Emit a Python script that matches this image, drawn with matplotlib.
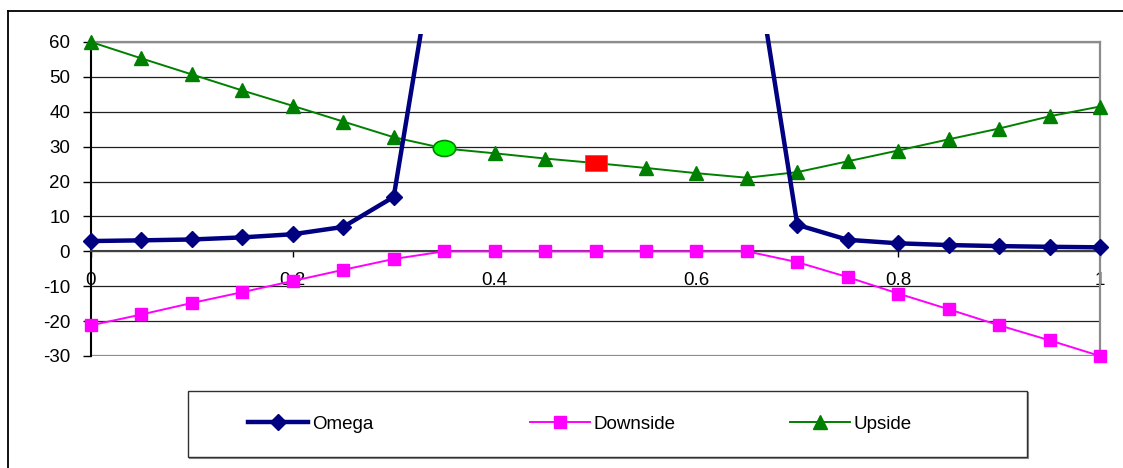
import matplotlib
matplotlib.use("Agg")
import matplotlib.pyplot as plt
import numpy as np
from matplotlib.lines import Line2D
from matplotlib.markers import MarkerStyle
from matplotlib.patches import Rectangle
from matplotlib.transforms import Affine2D

plt.rcParams['font.family'] = ['Liberation Sans', 'DejaVu Sans']

# threshold values
x = [0, 0.05, 0.1, 0.15, 0.2, 0.25, 0.3, 0.35, 0.4, 0.45, 0.5,
     0.55, 0.6, 0.65, 0.7, 0.75, 0.8, 0.85, 0.9, 0.95, 1.0]
omega = [2.95, 3.15, 3.4, 4.0, 4.9, 7.0, 15.6, 103, np.nan, np.nan, np.nan,
         np.nan, np.nan, 99, 7.6, 3.3, 2.3, 1.8, 1.5, 1.3, 1.15]
downside = [-21.2, -18.1, -14.8, -11.7, -8.5, -5.3, -2.2, 0, 0, 0, 0,
            0, 0, 0, -3.1, -7.4, -12.1, -16.6, -21.2, -25.5, -30.0]
upside = [60, 55.3, 50.7, 46.1, 41.7, 37.2, 32.7, 29.5, 28.1, 26.6, 25.3,
          23.9, 22.4, 21.1, 22.7, 25.8, 28.9, 32.1, 35.2, 38.7, 41.5]
circle_idx = 7   # highlighted points on the upside curve
square_idx = 10

yticks = [-30, -20, -10, 0, 10, 20, 30, 40, 50, 60]
xticks = [0, 0.2, 0.4, 0.6, 0.8, 1.0]
xticklabels = ['0', '0.2', '0.4', '0.6', '0.8', '1']
names = ['Omega', 'Downside', 'Upside']

W, H = 1123, 468
fig = plt.figure(figsize=(W / 100, H / 100), dpi=100)
ax = fig.add_axes([91 / W, 1 - 356 / H, 1009 / W, 314 / H])

ax.set_xlim(0, 1)
ax.set_ylim(-30, 60)
ax.set_yticks(yticks)
ax.set_yticklabels([str(v) for v in yticks])
ax.set_xticks(xticks)
ax.set_xticklabels(xticklabels)
ax.grid(axis='y', color='#202020', lw=0.9)
ax.set_axisbelow(True)

for s in ['top', 'right']:
    ax.spines[s].set_color('#8c8c8c')
    ax.spines[s].set_linewidth(1.6)
ax.spines['left'].set_color('black')
ax.spines['left'].set_linewidth(1.5)
ax.spines['bottom'].set_position(('data', 0))
ax.spines['bottom'].set_color('#404040')
ax.spines['bottom'].set_linewidth(1.5)
# plot area border at the bottom
ax.axhline(-30, color='#8c8c8c', lw=1.6, zorder=1.5)

ax.tick_params(axis='y', direction='out', length=6, width=1, pad=9, labelsize=13.5)
ax.tick_params(axis='x', direction='out', length=4, width=1, pad=11, labelsize=13.5)

navy, pink, green = '#000080', '#FF00FF', '#008000'

ax.plot(x, downside, color=pink, lw=1.4, marker='s', ms=9, mec=pink,
        clip_on=False, zorder=3)
keep = [i for i in range(len(x)) if i not in (circle_idx, square_idx)]
ax.plot(x, upside, color=green, lw=1.4, marker='^', ms=10, mec=green,
        markevery=keep, clip_on=False, zorder=4)
ax.plot(x[circle_idx], upside[circle_idx], linestyle='none',
        marker=MarkerStyle('o', transform=Affine2D().scale(1.4, 1)),
        ms=11.5, mfc='#00FF00', mec=green, mew=1.2, clip_on=False, zorder=5)
ax.plot(x[square_idx], upside[square_idx], linestyle='none',
        marker=MarkerStyle('s', transform=Affine2D().scale(1.35, 1)),
        ms=12, mfc='#FF0000', mec='#FF3030', mew=0.5, clip_on=False, zorder=5)

om, = ax.plot(x, omega, color=navy, lw=3.2, marker='D', ms=8, mec=navy, zorder=6)
om.set_clip_path(Rectangle((-0.05, -0.2), 1.1, 1.225, transform=ax.transAxes))

# outer chart frame
fig.add_artist(Line2D([8 / W, 1], [1 - 11 / H, 1 - 11 / H],
                      transform=fig.transFigure, color='black', lw=1.3))
fig.add_artist(Line2D([8 / W, 8 / W], [0, 1 - 11 / H],
                      transform=fig.transFigure, color='black', lw=1.3))

# legend box
fig.add_artist(Line2D([190 / W, 1028 / W], [1 - 458 / H, 1 - 458 / H],
                      transform=fig.transFigure, color='#909090', lw=1.5))
fig.add_artist(Line2D([1028 / W, 1028 / W], [1 - 458 / H, 1 - 393 / H],
                      transform=fig.transFigure, color='#909090', lw=1.5))
fig.add_artist(Rectangle((188 / W, 1 - 457 / H), 839 / W, 66 / H,
                         transform=fig.transFigure, fill=False,
                         edgecolor='#303030', lw=1, zorder=3))

handles = [
    Line2D([], [], color=navy, lw=3.2, marker='D', ms=8, mec=navy),
    Line2D([], [], color=pink, lw=1.4, marker='s', ms=9, mec=pink),
    Line2D([], [], color=green, lw=1.4, marker='^', ms=10, mec=green),
]
legend_x = [248, 530, 790]
for h, name, lx in zip(handles, names, legend_x):
    fig.legend([h], [name], loc='center left',
               bbox_to_anchor=(lx / W, 1 - 424 / H), frameon=False,
               fontsize=13.5, handlelength=3.2, handletextpad=0.2,
               borderpad=0, borderaxespad=0)

fig.savefig('out.png', dpi=100)
